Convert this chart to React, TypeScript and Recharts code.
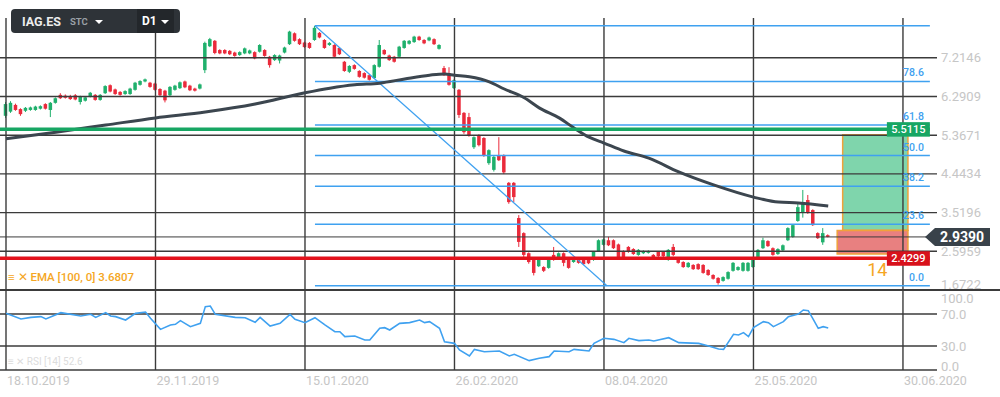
import React from 'react';
import { ComposedChart, Bar, Line, XAxis, YAxis, ReferenceLine, ReferenceArea } from 'recharts';

// axis labels
const dateLabels = ['18.10.2019', '29.11.2019', '15.01.2020', '26.02.2020', '08.04.2020', '25.05.2020', '30.06.2020'];
const dateTickIdx = [0, 30, 60, 90, 120, 150, 180];
const priceTicks = [1.6722, 2.5959, 3.5196, 4.4434, 5.3671, 6.2909, 7.2146];
const rsiTicks = [0, 30, 70, 100];

// daily bars, [open, high, low, close]
const candles: [number, number, number, number][] = [
  [5.83, 6.16, 5.78, 6.11], [5.93, 6.18, 5.90, 6.14], [6.09, 6.12, 5.95, 5.97], [5.99, 6.01, 5.83, 5.87],
  [5.95, 6.04, 5.92, 6.02], [5.97, 6.05, 5.95, 6.03], [5.97, 6.07, 5.95, 6.05], [6.00, 6.08, 5.98, 6.06],
  [6.11, 6.13, 5.98, 6.00], [5.97, 6.16, 5.80, 6.14], [6.14, 6.27, 6.12, 6.25], [6.33, 6.37, 6.23, 6.25],
  [6.31, 6.34, 6.24, 6.26], [6.30, 6.33, 6.21, 6.23], [6.32, 6.35, 6.20, 6.22], [6.16, 6.31, 6.10, 6.29],
  [6.19, 6.29, 6.17, 6.27], [6.29, 6.40, 6.27, 6.38], [6.33, 6.35, 6.19, 6.21], [6.21, 6.35, 6.19, 6.33],
  [6.37, 6.56, 6.35, 6.54], [6.56, 6.58, 6.39, 6.41], [6.46, 6.48, 6.33, 6.35], [6.40, 6.42, 6.31, 6.33],
  [6.35, 6.44, 6.33, 6.42], [6.35, 6.50, 6.33, 6.48], [6.45, 6.64, 6.43, 6.62], [6.57, 6.68, 6.55, 6.66],
  [6.65, 6.72, 6.63, 6.70], [6.62, 6.64, 6.50, 6.52], [6.60, 6.62, 6.43, 6.45], [6.47, 6.49, 6.30, 6.32],
  [6.43, 6.45, 6.15, 6.20], [6.32, 6.54, 6.30, 6.52], [6.45, 6.57, 6.43, 6.55], [6.49, 6.65, 6.47, 6.63],
  [6.65, 6.67, 6.49, 6.51], [6.55, 6.57, 6.42, 6.44], [6.48, 6.50, 6.41, 6.43], [6.48, 6.60, 6.46, 6.58],
  [6.92, 7.60, 6.85, 7.57], [7.49, 7.69, 7.47, 7.66], [7.62, 7.64, 7.30, 7.33], [7.40, 7.42, 7.30, 7.32],
  [7.40, 7.42, 7.30, 7.32], [7.38, 7.40, 7.28, 7.30], [7.34, 7.36, 7.24, 7.26], [7.28, 7.37, 7.26, 7.35],
  [7.32, 7.46, 7.30, 7.44], [7.32, 7.41, 7.30, 7.39], [7.35, 7.37, 7.18, 7.20], [7.36, 7.54, 7.34, 7.52],
  [7.40, 7.42, 7.24, 7.26], [7.24, 7.26, 6.98, 7.04], [7.16, 7.30, 7.14, 7.28], [7.15, 7.29, 7.08, 7.27],
  [7.34, 7.48, 7.32, 7.46], [7.54, 7.86, 7.52, 7.84], [7.80, 7.82, 7.60, 7.62], [7.66, 7.68, 7.52, 7.54],
  [7.58, 7.60, 7.45, 7.47], [7.57, 7.59, 7.43, 7.45], [7.64, 7.98, 7.62, 7.93], [7.81, 7.83, 7.68, 7.70],
  [7.64, 7.66, 7.43, 7.45], [7.52, 7.59, 7.50, 7.57], [7.52, 7.54, 7.22, 7.24], [7.45, 7.47, 7.28, 7.30],
  [7.12, 7.14, 6.88, 6.90], [6.88, 7.04, 6.85, 7.02], [7.04, 7.06, 6.93, 6.95], [6.90, 6.92, 6.74, 6.76],
  [6.85, 6.87, 6.72, 6.74], [6.80, 6.82, 6.67, 6.69], [6.73, 7.06, 6.71, 7.04], [7.00, 7.64, 6.98, 7.52],
  [7.40, 7.42, 7.28, 7.30], [7.27, 7.29, 7.14, 7.16], [7.24, 7.26, 7.10, 7.12], [7.24, 7.50, 7.22, 7.48],
  [7.45, 7.64, 7.43, 7.62], [7.55, 7.64, 7.53, 7.62], [7.59, 7.74, 7.57, 7.72], [7.72, 7.74, 7.62, 7.64],
  [7.64, 7.66, 7.54, 7.56], [7.63, 7.72, 7.61, 7.70], [7.66, 7.68, 7.52, 7.54], [7.43, 7.54, 7.41, 7.52],
  [6.97, 7.02, 6.78, 6.80], [6.85, 6.99, 6.55, 6.57], [6.49, 6.70, 6.47, 6.68], [6.45, 6.47, 5.78, 5.85],
  [5.90, 5.92, 5.40, 5.44], [5.80, 5.90, 5.33, 5.37], [5.08, 5.34, 5.04, 5.32], [5.37, 5.39, 5.10, 5.13],
  [5.30, 5.32, 4.85, 4.89], [4.70, 5.03, 4.66, 5.01], [4.54, 4.87, 4.50, 4.85], [4.89, 5.32, 4.75, 4.77],
  [4.89, 4.91, 4.44, 4.48], [4.23, 4.25, 3.73, 3.77], [4.23, 4.25, 3.77, 3.89], [3.39, 3.46, 2.70, 2.82],
  [3.03, 3.05, 2.46, 2.51], [2.55, 2.57, 2.30, 2.34], [2.39, 2.41, 2.02, 2.08], [2.24, 2.41, 2.22, 2.39],
  [2.22, 2.24, 2.10, 2.13], [2.20, 2.41, 2.18, 2.39], [2.51, 2.70, 2.37, 2.39], [2.46, 2.57, 2.44, 2.55],
  [2.55, 2.57, 2.24, 2.32], [2.39, 2.41, 2.18, 2.20], [2.34, 2.45, 2.32, 2.43], [2.41, 2.43, 2.30, 2.32],
  [2.39, 2.41, 2.27, 2.29], [2.39, 2.41, 2.29, 2.31], [2.39, 2.60, 2.37, 2.58], [2.60, 2.88, 2.58, 2.86],
  [2.75, 2.90, 2.73, 2.88], [2.86, 2.94, 2.72, 2.74], [2.86, 2.88, 2.65, 2.67], [2.76, 2.78, 2.44, 2.46],
  [2.60, 2.62, 2.44, 2.46], [2.70, 2.72, 2.56, 2.58], [2.65, 2.67, 2.51, 2.53], [2.51, 2.65, 2.49, 2.63],
  [2.55, 2.62, 2.53, 2.60], [2.56, 2.62, 2.54, 2.60], [2.51, 2.53, 2.44, 2.46], [2.58, 2.60, 2.46, 2.48],
  [2.58, 2.60, 2.46, 2.48], [2.39, 2.65, 2.37, 2.63], [2.70, 2.77, 2.48, 2.51], [2.39, 2.41, 2.30, 2.32],
  [2.34, 2.36, 2.20, 2.22], [2.22, 2.34, 2.20, 2.32], [2.27, 2.29, 2.15, 2.17], [2.29, 2.31, 2.15, 2.17],
  [2.27, 2.29, 2.06, 2.08], [2.15, 2.17, 2.01, 2.03], [2.03, 2.05, 1.92, 1.94], [1.96, 1.98, 1.80, 1.84],
  [1.89, 2.00, 1.87, 1.98], [1.94, 2.12, 1.92, 2.10], [2.13, 2.34, 2.11, 2.32], [2.15, 2.24, 2.13, 2.22],
  [2.13, 2.34, 2.11, 2.32], [2.13, 2.34, 2.11, 2.32], [2.22, 2.43, 2.20, 2.41], [2.46, 2.65, 2.44, 2.63],
  [2.67, 2.92, 2.65, 2.86], [2.84, 2.86, 2.70, 2.72], [2.67, 2.69, 2.49, 2.51], [2.53, 2.67, 2.51, 2.65],
  [2.62, 2.76, 2.60, 2.74], [2.86, 3.17, 2.84, 3.15], [2.94, 3.24, 2.92, 3.22], [3.32, 3.75, 3.30, 3.65],
  [3.51, 4.06, 3.40, 3.77], [3.82, 3.94, 3.49, 3.51], [3.58, 3.60, 3.20, 3.22], [3.03, 3.05, 2.89, 2.91],
  [2.81, 3.15, 2.75, 3.03], [2.98, 3.00, 2.93, 2.94],
];

// EMA(100) read at bar index
const emaPoints: [number, number][] = [
  [0, 5.28], [10, 5.44], [20, 5.61], [30, 5.78], [40, 5.92], [50, 6.11], [60, 6.38], [65, 6.49],
  [70, 6.57], [75, 6.61], [80, 6.71], [85, 6.80], [88, 6.83], [90, 6.80], [93, 6.76], [97, 6.64],
  [100, 6.47], [104, 6.26], [107, 6.02], [111, 5.78], [114, 5.54], [117, 5.32], [120, 5.18], [124, 4.99],
  [129, 4.82], [135, 4.49], [142, 4.18], [150, 3.89], [155, 3.77], [159, 3.75], [165, 3.68],
];

// RSI(14) read at bar index
const rsiPoints: [number, number][] = [
  [0, 70.8], [3, 63.8], [5, 65.8], [7, 66.7], [8, 63.8], [11, 71.7], [15, 67.5], [17, 69.6], [18, 65.8],
  [20, 71.7], [21, 67.5], [22, 66.7], [24, 62.5], [26, 70.8], [28, 72.5], [29, 64.6], [31, 50.8], [33, 56.3],
  [34, 57.1], [35, 61.7], [37, 54.2], [39, 58.3], [40, 79.2], [41, 80], [42, 69.6], [46, 65.8], [48, 65.4],
  [50, 59.6], [51, 65.8], [53, 55], [55, 58.3], [57, 69.6], [58, 63.3], [60, 59.2], [62, 65.4], [64, 56.3],
  [66, 47.9], [67, 47.9], [68, 41.7], [70, 42.5], [72, 37.5], [73, 37.5], [75, 52.1], [76, 52.9], [77, 50],
  [79, 58.3], [81, 59.2], [83, 62.5], [84, 59.2], [85, 60.4], [87, 52.1], [88, 35.4], [90, 33.3], [91, 25],
  [93, 17.5], [94, 25.8], [96, 22.9], [99, 23.8], [101, 17.5], [102, 19.6], [105, 11.7], [107, 14.6],
  [109, 16.7], [110, 23.8], [113, 22.9], [114, 25.8], [117, 23.8], [118, 33.3], [120, 39.6], [122, 38.3],
  [124, 34.2], [125, 39.6], [127, 36.7], [129, 37.5], [130, 36.3], [133, 40.4], [135, 34.2], [139, 33.3],
  [141, 30], [143, 26.3], [144, 25.8], [146, 44.6], [147, 43.8], [148, 46.7], [149, 41.7], [150, 52.9],
  [152, 60.4], [153, 59.2], [154, 54.2], [156, 60.4], [157, 66.7], [159, 70], [160, 75], [161, 74.2],
  [162, 63.3], [163, 52.1], [164, 54.2], [165, 52.6],
];

// Fibonacci retracement drawn from the January high to the May low
const fibLevels = ['100.0', '78.6', '61.8', '50.0', '38.2', '23.6', '0.0'];
const fibPrices = [7.98, 6.65, 5.61, 4.88, 4.15, 3.24, 1.775];
const fibStart = 62;
const fibEnd = 185.4;
const trendLine = [{ x: 62, y: 7.98 }, { x: 120.6, y: 1.775 }];

const lastPrice = 2.939;
const resistance = 5.5115;
const support = 2.4299;
const targetZone = { x1: 167.9, x2: 181, y1: 3.1, y2: 5.38 };
const stopZone = { x1: 166.8, x2: 181, y1: 2.53, y2: 3.09 };

const GRID = '#3b3b3b';
const UP = '#1fb06c';
const DOWN = '#ea2a3b';
const FIB = '#3fa1f0';
const AXIS_TXT = '#c6c6c6';
const X_DOMAIN: [number, number] = [-1.204, 186.83];

const bars = candles.map(([o, h, l, c], i) => ({ i, o, h, l, c }));
const emaData = emaPoints.map(([i, ema]) => ({ i, ema }));
const rsiData = rsiPoints.map(([i, v]) => ({ i, v }));

const Candle = (props: any) => {
  const { x, y, width, height, payload } = props;
  const { o, h, l, c } = payload;
  const color = c >= o ? UP : DOWN;
  const span = h - l || 1;
  const py = (v: number) => y + ((h - v) / span) * height;
  const cx = x + width / 2;
  const a = py(Math.max(o, c));
  const b = py(Math.min(o, c));
  return (
    <g>
      <line x1={cx} x2={cx} y1={py(h)} y2={py(l)} stroke={color} strokeWidth={1} />
      <rect x={cx - 1.75} y={Math.min(a, b)} width={3.5} height={Math.max(1, Math.abs(b - a))} fill={color} />
    </g>
  );
};

// bottom label sits just above the panel edge, as in the terminal
const PriceTick = ({ x, y, payload }: any) => (
  <text x={x} y={Math.min(y, 284)} dy={4.5} fill={AXIS_TXT} fontSize={13}>{payload.value.toFixed(4)}</text>
);

const RsiTick = ({ x, y, payload }: any) => (
  <text x={x} y={Math.min(Math.max(y, 8), 76)} dy={4.5} fill={AXIS_TXT} fontSize={13}>{payload.value.toFixed(1)}</text>
);

const DateTick = ({ x, y, payload }: any) => (
  <text x={x + 1} y={y + 15} fill={AXIS_TXT} fontSize={12.5}>{dateLabels[dateTickIdx.indexOf(payload.value)]}</text>
);

const fibLabel = (txt: string) => ({ viewBox }: any) => (
  <text x={viewBox.x + viewBox.width - 6} y={viewBox.y - 5} textAnchor="end" fill={FIB} fontSize={10.5} fontWeight={500}>{txt}</text>
);

const boxLabel = (txt: string, bg: string) => ({ viewBox }: any) => {
  const right = viewBox.x + viewBox.width;
  return (
    <g>
      <rect x={right - 43} y={viewBox.y - 7} width={43} height={14.5} fill={bg} />
      <text x={right - 21.5} y={viewBox.y + 4} textAnchor="middle" fill="#fff" fontSize={11} fontWeight={500}>{txt}</text>
    </g>
  );
};

const priceLabel = ({ viewBox }: any) => {
  const r = viewBox.x + viewBox.width;
  const cy = viewBox.y;
  return (
    <g>
      <path d={`M${r - 12},${cy} L${r - 2},${cy - 9} L${r + 53},${cy - 9} L${r + 53},${cy + 9} L${r - 2},${cy + 9} Z`} fill="#39424a" />
      <text x={r + 25} y={cy + 5} textAnchor="middle" fill="#fff" fontSize={14} fontWeight={700}>{lastPrice.toFixed(4)}</text>
    </g>
  );
};

const riskLabel = ({ viewBox }: any) => (
  <text x={viewBox.x + 30} y={viewBox.y + viewBox.height + 22} fill="#f5a623" fontSize={18}>14</text>
);

const tri = (color: string) => (
  <span style={{ display: 'inline-block', width: 0, height: 0, borderLeft: '4px solid transparent', borderRight: '4px solid transparent', borderTop: `4px solid ${color}` }} />
);

export default function App() {
  return (
    <div style={{ position: 'relative', width: 1000, height: 397, background: '#fff', fontFamily: 'Roboto, sans-serif', overflow: 'hidden' }}>
      <style>{'body{margin:0}'}</style>
      <ComposedChart width={1000} height={290} data={bars} margin={{ top: 18, right: 0, bottom: 0, left: 0 }}>
        <XAxis dataKey="i" type="number" domain={X_DOMAIN} allowDataOverflow hide />
        <YAxis orientation="right" width={63} domain={[1.6722, 8.1648]} ticks={priceTicks} allowDataOverflow
          axisLine={false} tickLine={false} tickSize={0} tickMargin={4} tick={<PriceTick />} interval={0} />
        {priceTicks.map((p) => <ReferenceLine key={`h${p}`} y={p} stroke={GRID} strokeWidth={1.4} />)}
        {dateTickIdx.map((d) => <ReferenceLine key={`v${d}`} x={d} stroke={GRID} strokeWidth={1.4} />)}
        <ReferenceLine y={lastPrice} stroke={GRID} strokeWidth={1} label={priceLabel} />
        <ReferenceArea {...targetZone} fill="#5fcb97" fillOpacity={0.8} stroke="#f0a23a" strokeWidth={1.5} />
        <ReferenceArea {...stopZone} fill="#e57272" fillOpacity={0.9} stroke="#f0a23a" strokeWidth={1.5} label={riskLabel} />
        {fibPrices.map((p, k) => (
          <ReferenceLine key={`f${k}`} segment={[{ x: fibStart, y: p }, { x: fibEnd, y: p }]} stroke={FIB} strokeWidth={1.5}
            label={k === 0 ? undefined : fibLabel(fibLevels[k])} />
        ))}
        <ReferenceLine segment={trendLine} stroke={FIB} strokeWidth={1.2} />
        <Bar dataKey={(d: any) => [d.l, d.h]} barSize={4} shape={<Candle />} isAnimationActive={false} />
        <Line data={emaData} dataKey="ema" type="monotone" stroke="#3c464f" strokeWidth={3} dot={false} isAnimationActive={false} />
        <ReferenceLine segment={[{ x: X_DOMAIN[0], y: resistance }, { x: fibEnd, y: resistance }]} stroke="#17a663" strokeWidth={3.5}
          label={boxLabel(resistance.toFixed(4), '#17a663')} />
        <ReferenceLine segment={[{ x: X_DOMAIN[0], y: support }, { x: fibEnd, y: support }]} stroke="#e3121c" strokeWidth={3.5}
          label={boxLabel(support.toFixed(4), '#d8111b')} />
      </ComposedChart>
      <div style={{ position: 'absolute', left: 0, top: 289, width: 1000, height: 1.5, background: GRID }} />
      <ComposedChart width={1000} height={107} data={rsiData} margin={{ top: 0, right: 0, bottom: 0, left: 0 }}>
        <XAxis dataKey="i" type="number" domain={X_DOMAIN} allowDataOverflow ticks={dateTickIdx} interval={0}
          axisLine={false} tickLine={false} tickSize={0} tickMargin={0} height={27} tick={<DateTick />} />
        <YAxis orientation="right" width={63} domain={[0, 100]} ticks={rsiTicks} interval={0}
          axisLine={false} tickLine={false} tickSize={0} tickMargin={4} tick={<RsiTick />} />
        {[0, 30, 70].map((v) => <ReferenceLine key={`r${v}`} y={v} stroke={GRID} strokeWidth={1.4} />)}
        {dateTickIdx.map((d) => <ReferenceLine key={`rv${d}`} x={d} stroke={GRID} strokeWidth={1.4} />)}
        <Line dataKey="v" type="linear" stroke="#3fa1f0" strokeWidth={1.6} dot={false} isAnimationActive={false} />
      </ComposedChart>

      <div style={{ position: 'absolute', left: 11, top: 9, width: 169, height: 24, background: '#2e3338', borderRadius: 4 }}>
        <span style={{ position: 'absolute', left: 11, top: 5, color: '#ececec', fontWeight: 700, fontSize: 12.5 }}>IAG.ES</span>
        <span style={{ position: 'absolute', left: 59, top: 7, color: '#9aa0a6', fontWeight: 700, fontSize: 9.5 }}>STC</span>
        <span style={{ position: 'absolute', left: 84, top: 6, lineHeight: '8px' }}>{tri('#fff')}</span>
        <div style={{ position: 'absolute', left: 126, top: 0, width: 37, height: 24, background: '#23272b' }}>
          <span style={{ position: 'absolute', left: 5, top: 5, color: '#fff', fontWeight: 700, fontSize: 12 }}>D1</span>
          <span style={{ position: 'absolute', left: 24, top: 6, lineHeight: '8px' }}>{tri('#fff')}</span>
        </div>
      </div>
      <div style={{ position: 'absolute', left: 8, top: 270, color: '#f5a623', fontSize: 11.5, fontWeight: 500, whiteSpace: 'nowrap' }}>
        ≡ ✕ EMA [100, 0] 3.6807
      </div>
      <div style={{ position: 'absolute', left: 8, top: 356, color: '#dcdcdc', fontSize: 10, whiteSpace: 'nowrap' }}>
        ≡ ✕ RSI [14] 52.6
      </div>
    </div>
  );
}
